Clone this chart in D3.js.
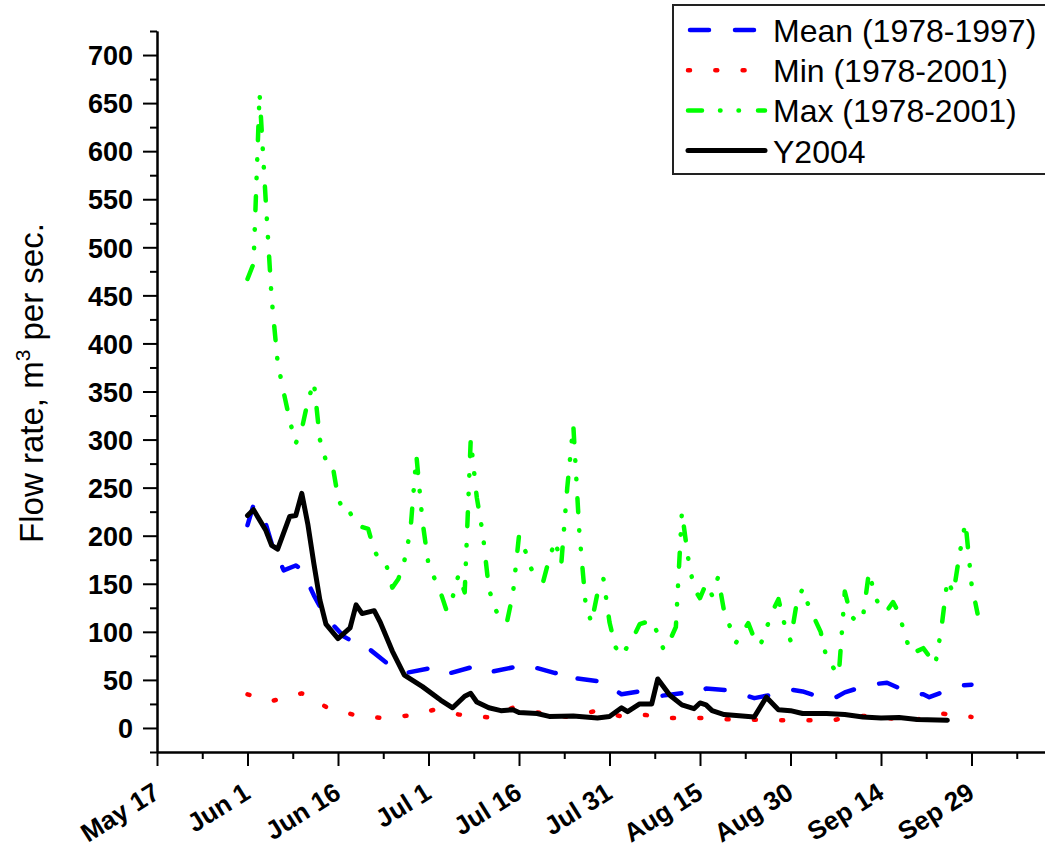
<!DOCTYPE html>
<html>
<head>
<meta charset="utf-8">
<script src="https://cdn.jsdelivr.net/npm/d3@7"></script>
<style>
body { margin: 0; background: #fff; }
</style>
</head>
<body>
<div id="chart-area"></div>
<script>
/*
*    flow rate chart
*/
var svgWidth = 1045;
var svgHeight = 852;
var plot = {left: 157, top: 31, right: 1062, bottom: 752};

// last tick (Oct 14) sits past the right edge, no label shown
var tickLabels = ["May 17", "Jun 1", "Jun 16", "Jul 1", "Jul 16", "Jul 31", "Aug 15", "Aug 30", "Sep 14", "Sep 29", "Oct 14"];
var yTicks = [0, 50, 100, 150, 200, 250, 300, 350, 400, 450, 500, 550, 600, 650, 700];
var yMinorTicks = [-25, 25, 75, 125, 175, 225, 275, 325, 375, 425, 475, 525, 575, 625, 675, 725];

var meanDates = ["06-01", "06-02", "06-04", "06-05", "06-07", "06-09", "06-10", "06-12", "06-14", "06-17",
	"06-19", "06-20", "06-24", "06-27", "07-02", "07-04", "07-08", "07-09", "07-11", "07-15",
	"07-16", "07-18", "07-22", "07-24", "07-25", "07-30", "07-31", "08-02", "08-05", "08-08",
	"08-13", "08-15", "08-16", "08-20", "08-24", "08-28", "08-30", "09-01", "09-04", "09-06",
	"09-08", "09-12", "09-15", "09-19", "09-21", "09-22", "09-27", "09-29"];
var meanValues = [211, 232, 213, 192, 164, 169, 165, 138, 115, 95,
	88, 88, 68, 57, 63, 56, 63, 58, 58, 63,
	66, 64, 57, 60, 52, 48, 43, 35, 38, 33,
	37, 36, 41, 39, 31, 36, 40, 38, 32, 30,
	37, 45, 47, 36, 35, 32, 44, 45];

var minDates = ["06-01", "06-05", "06-10", "06-14", "06-19", "06-23", "06-28", "07-02", "07-06", "07-11",
	"07-15", "07-20", "07-24", "07-29", "08-02", "08-06", "08-10", "08-15", "08-19", "08-23",
	"08-28", "09-01", "09-06", "09-10", "09-15", "09-19", "09-24", "09-29"];
var minValues = [35, 28, 36, 22, 13, 10.5, 13, 19, 14, 11,
	21, 15, 11.5, 18, 12, 13.5, 10.4, 10.4, 9, 8.7,
	8, 8, 8, 13, 10.4, 7.3, 15, 11.5];

var maxDates = ["06-01", "06-02", "06-03", "06-04", "06-05", "06-06", "06-07", "06-08", "06-09", "06-10",
	"06-11", "06-12", "06-13", "06-14", "06-15", "06-16", "06-17", "06-18", "06-19", "06-21",
	"06-22", "06-23", "06-24", "06-25", "06-26", "06-27", "06-28", "06-29", "06-30", "07-01",
	"07-03", "07-04", "07-05", "07-06", "07-07", "07-08", "07-09", "07-10", "07-11", "07-12",
	"07-13", "07-14", "07-15", "07-16", "07-17", "07-18", "07-19", "07-20", "07-21", "07-22",
	"07-23", "07-24", "07-25", "07-26", "07-27", "07-28", "07-29", "07-30", "07-31", "08-01",
	"08-02", "08-04", "08-05", "08-07", "08-08", "08-09", "08-10", "08-11", "08-12", "08-13",
	"08-14", "08-15", "08-16", "08-17", "08-18", "08-19", "08-21", "08-23", "08-24", "08-25",
	"08-27", "08-28", "08-29", "08-30", "08-31", "09-01", "09-02", "09-04", "09-05", "09-07",
	"09-08", "09-09", "09-10", "09-11", "09-12", "09-13", "09-14", "09-15", "09-16", "09-17",
	"09-18", "09-19", "09-21", "09-23", "09-24", "09-25", "09-26", "09-27", "09-28", "09-29",
	"09-30"];
var maxValues = [467, 483, 660, 551, 447, 380, 349, 320, 296, 311,
	340, 360, 300, 278, 277, 240, 223, 224, 211, 207,
	185, 173, 170, 146, 155, 174, 205, 283, 215, 170,
	141, 122, 136, 160, 141, 300, 240, 202, 145, 125,
	111, 110, 140, 200, 185, 166, 155, 152, 176, 195,
	170, 250, 315, 204, 132, 109, 140, 155, 110, 84,
	75, 95, 108, 112, 98, 81, 91, 105, 225, 178,
	145, 135, 150, 138, 157, 121, 89, 109, 93, 86,
	121, 134, 108, 91, 129, 145, 127, 100, 72, 55,
	142, 117, 110, 115, 162, 138, 122, 122, 131, 119,
	96, 77, 83, 66, 103, 154, 140, 180, 214, 150,
	119];

var y2004Dates = ["06-01", "06-02", "06-04", "06-05", "06-06", "06-08", "06-09", "06-10", "06-11", "06-12",
	"06-13", "06-14", "06-16", "06-18", "06-19", "06-20", "06-22", "06-23", "06-25", "06-27",
	"06-30", "07-03", "07-05", "07-07", "07-08", "07-09", "07-11", "07-13", "07-15", "07-16",
	"07-19", "07-21", "07-25", "07-29", "07-31", "08-02", "08-03", "08-05", "08-07", "08-08",
	"08-10", "08-12", "08-14", "08-15", "08-16", "08-17", "08-19", "08-21", "08-24", "08-26",
	"08-28", "08-30", "09-01", "09-05", "09-08", "09-11", "09-14", "09-17", "09-20", "09-25"];
var y2004Values = [221, 227, 206, 190, 186, 220, 221, 244, 212, 171,
	133, 108, 93, 104, 128, 119, 122, 110, 80, 55,
	43, 29, 21, 33, 36, 27, 21, 18, 19, 16,
	15, 12, 12.5, 10.4, 12, 21, 17, 25, 25, 51,
	34, 24, 20, 26, 24, 18, 14, 13, 11.5, 32,
	19, 18, 15, 15, 14, 11.5, 10.4, 10.8, 8.7, 8];

var parseTick = d3.utcParse("%b %d");
var parseDay = d3.utcParse("%m-%d");

var tickDates = tickLabels.map(parseTick);
var minorDates = tickDates.slice(1).map((d, i) => new Date((d.getTime() + tickDates[i].getTime()) / 2));

function toPoints(dates, values) {
	return dates.map((d, i) => { return {date: parseDay(d), value: values[i]}; });
}

var series = [
	{name: "Mean (1978-1997)", points: toPoints(meanDates, meanValues), color: "#0000ff", width: 4.5, dash: "19,26"},
	{name: "Min (1978-2001)", points: toPoints(minDates, minValues), color: "#ff0000", width: 4.5, dash: "2,25.3"},
	{name: "Max (1978-2001)", points: toPoints(maxDates, maxValues), color: "#00ff00", width: 4.5, dash: "14,18,0.5,18,0.5,19"},
	{name: "Y2004", points: toPoints(y2004Dates, y2004Values), color: "#000000", width: 5, dash: null}
];

var x = d3.scaleUtc()
	.domain([tickDates[0], tickDates[tickDates.length - 1]])
	.range([plot.left, plot.right]);
var y = d3.scaleLinear()
	.domain([-25, 725])
	.range([plot.bottom, plot.top]);

var svg = d3.select("#chart-area").append("svg")
	.attr("width", svgWidth)
	.attr("height", svgHeight)
	.style("background", "#fff");

var font = "Arial, 'Liberation Sans', sans-serif";

// y axis
svg.append("g")
	.attr("transform", "translate(" + plot.left + ",0)")
	.call(d3.axisLeft(y).tickValues(yMinorTicks).tickSize(7).tickSizeOuter(0).tickFormat(""));

var yAxisG = svg.append("g")
	.attr("transform", "translate(" + plot.left + ",0)")
	.call(d3.axisLeft(y).tickValues(yTicks).tickSize(14).tickSizeOuter(0).tickPadding(10));

yAxisG.selectAll("text")
	.attr("font-family", font)
	.attr("font-size", "27px")
	.attr("font-weight", "bold")
	.attr("dy", "0.36em")
	.attr("fill", "#000");

// x axis
svg.append("g")
	.attr("transform", "translate(0," + plot.bottom + ")")
	.call(d3.axisBottom(x).tickValues(minorDates).tickSize(7).tickSizeOuter(0).tickFormat(""));

var xAxisG = svg.append("g")
	.attr("transform", "translate(0," + plot.bottom + ")")
	.call(d3.axisBottom(x).tickValues(tickDates).tickSize(14).tickSizeOuter(0)
		.tickFormat((d, i) => { return i < tickLabels.length - 1 ? tickLabels[i] : ""; }));

xAxisG.selectAll("text")
	.attr("font-family", font)
	.attr("font-size", "26px")
	.attr("font-weight", "bold")
	.attr("fill", "#000")
	.attr("x", 0)
	.attr("y", 0)
	.attr("dy", 0)
	.attr("text-anchor", "end")
	.attr("transform", "translate(4,45) rotate(-32)");

svg.selectAll(".domain, .tick line")
	.attr("stroke", "#000")
	.attr("stroke-width", 2);

// y title
var yTitle = svg.append("text")
	.attr("transform", "translate(43,383) rotate(-90)")
	.attr("text-anchor", "middle")
	.attr("font-family", font)
	.attr("font-size", "33px")
	.attr("fill", "#000");
yTitle.append("tspan").text("Flow rate, m");
yTitle.append("tspan").attr("font-size", "21px").attr("dy", -13).text("3");
yTitle.append("tspan").attr("dy", 13).text(" per sec.");

// lines
var line = d3.line()
	.x((d) => { return x(d.date); })
	.y((d) => { return y(d.value); });

svg.selectAll(".series")
	.data(series)
	.enter()
	.append("path")
	.attr("class", "series")
	.attr("d", (d) => { return line(d.points); })
	.attr("fill", "none")
	.attr("stroke", (d) => { return d.color; })
	.attr("stroke-width", (d) => { return d.width; })
	.attr("stroke-dasharray", (d) => { return d.dash; })
	.attr("stroke-linecap", "round")
	.attr("stroke-linejoin", "round");

// legend
var legend = svg.append("g");

legend.append("rect")
	.attr("x", 673)
	.attr("y", 5)
	.attr("width", 420)
	.attr("height", 169)
	.attr("fill", "#fff")
	.attr("stroke", "#222")
	.attr("stroke-width", 2);

var rows = legend.selectAll(".row")
	.data(series)
	.enter()
	.append("g")
	.attr("class", "row")
	.attr("transform", (d, i) => { return "translate(0," + (30 + i * 40.2) + ")"; });

rows.append("line")
	.attr("x1", (d) => { return d.dash === "19,26" ? 690 : 688; })
	.attr("x2", 765)
	.attr("stroke", (d) => { return d.color; })
	.attr("stroke-width", (d) => { return d.width; })
	.attr("stroke-dasharray", (d) => { return d.dash; })
	.attr("stroke-linecap", "round");

rows.append("text")
	.attr("x", 773)
	.attr("y", 12)
	.attr("font-family", font)
	.attr("font-size", "32px")
	.attr("fill", "#000")
	.text((d) => { return d.name; });
</script>
</body>
</html>
